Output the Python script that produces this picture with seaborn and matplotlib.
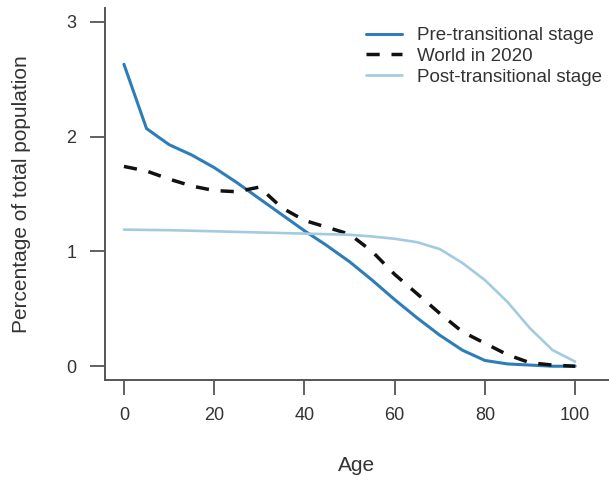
import pandas as pd
import seaborn as sns
from matplotlib import pyplot as plt

ages = list(range(0, 101, 5))

pre_transitional = [2.63, 2.07, 1.93, 1.84, 1.73, 1.60, 1.46, 1.32, 1.18, 1.05, 0.91,
                    0.75, 0.58, 0.42, 0.27, 0.14, 0.05, 0.02, 0.01, 0.0, 0.0]
world_2020 = [1.74, 1.70, 1.63, 1.57, 1.53, 1.52, 1.56, 1.38, 1.27, 1.21, 1.15,
              1.00, 0.80, 0.63, 0.46, 0.30, 0.20, 0.10, 0.03, 0.01, 0.0]
post_transitional = [1.19, 1.187, 1.185, 1.18, 1.175, 1.17, 1.165, 1.16, 1.155, 1.15, 1.145,
                     1.13, 1.11, 1.08, 1.02, 0.90, 0.75, 0.56, 0.33, 0.14, 0.04]

series_names = ["Pre-transitional stage", "World in 2020", "Post-transitional stage"]
colors = ["#2d7db8", "#111111", "#a3cbe0"]

sns.set_theme(style="ticks")
plt.rcParams['font.family'] = ['Liberation Sans', 'DejaVu Sans']

df = pd.DataFrame({"Age": ages * 3,
                   "value": pre_transitional + world_2020 + post_transitional,
                   "series": [n for n in series_names for _ in ages]})

fig = plt.figure(figsize=(6.09, 4.82), dpi=100)
ax = fig.add_axes([105 / 609, 102 / 482, 504 / 609, 372 / 482])

widths = [2.2, 2.5, 1.9]
for name, col, lw in zip(series_names, colors, widths):
    sub = df[df["series"] == name]
    sns.lineplot(data=sub, x="Age", y="value", color=col, linewidth=lw,
                 label=name, ax=ax)
ax.lines[1].set_dashes((3.8, 3.4))

ax.set_xlim(-4.2, 107.5)
ax.set_ylim(-0.12, 3.12)
ax.set_xticks([0, 20, 40, 60, 80, 100])
ax.set_yticks([0, 1, 2, 3])

sns.despine(ax=ax)
for side in ["left", "bottom"]:
    ax.spines[side].set_color("#555555")
    ax.spines[side].set_linewidth(1.4)
ax.tick_params(axis="both", length=10.5, width=1.3, color="#555555",
               labelsize=13, labelcolor="#333333")
ax.tick_params(axis="x", pad=9)
ax.tick_params(axis="y", pad=10)

ax.set_xlabel("Age", fontsize=15, color="#333333")
ax.set_ylabel("Percentage of total population", fontsize=15, color="#333333")
ax.xaxis.label.set_va("center")
ax.yaxis.label.set_va("center")
ax.xaxis.set_label_coords(0.5, -0.231)
ax.yaxis.set_label_coords(-0.165, 0.5)

ax.legend(loc="upper left", bbox_to_anchor=(366 / 609, 455 / 482),
          bbox_transform=fig.transFigure, frameon=False, fontsize=13.5,
          handlelength=1.9, handletextpad=0.8, labelspacing=0.2,
          borderpad=0, borderaxespad=0, labelcolor="#333333")

fig.savefig("out.png", dpi=100)
